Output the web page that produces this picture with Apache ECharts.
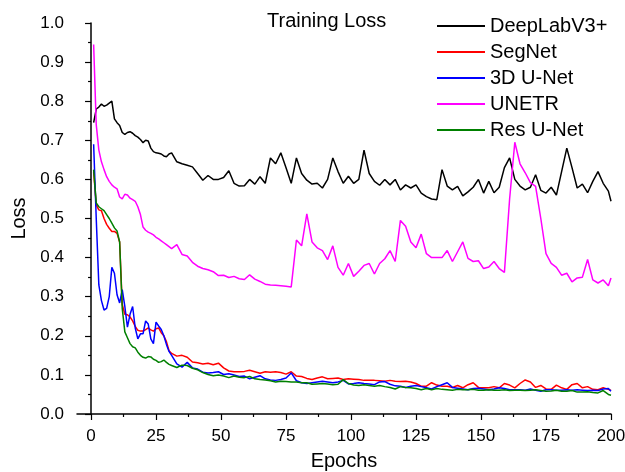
<!DOCTYPE html>
<html lang="en">
  <head>
    <meta charset="UTF-8" />
    <title>Training Loss</title>
    <script src="https://cdnjs.cloudflare.com/ajax/libs/echarts/6.0.0/echarts.min.js"></script>
    <style>
      html, body { margin: 0; padding: 0; background: #fff; }
      #main { width: 625px; height: 472px; }
    </style>
  </head>
  <body>
    <div id="main"></div>
    <script type="text/javascript">
      // epochs: every epoch up to 30, then every other epoch, then the last one
      var epochs = [];
      for (var e = 1; e <= 30; e++) epochs.push(e);
      for (var e2 = 31; e2 <= 199; e2 += 2) epochs.push(e2);
      epochs.push(200);

      var xTicks = [0, 25, 50, 75, 100, 125, 150, 175, 200];
      var xMinorTicks = [12.5, 37.5, 62.5, 87.5, 112.5, 137.5, 162.5, 187.5];

      var seriesNames = ["DeepLabV3+", "SegNet", "3D U-Net", "UNETR", "Res U-Net"];

      // DeepLabV3+ (epochs 1-30, then odd epochs 31-199 and 200)
      var deeplab = [
        0.745, 0.78, 0.785, 0.793, 0.787, 0.79, 0.795, 0.8, 0.755, 0.745,
        0.738, 0.72, 0.715, 0.72, 0.722, 0.718, 0.712, 0.708, 0.702, 0.694,
        0.70, 0.698, 0.68, 0.671, 0.668, 0.667, 0.665, 0.66, 0.658, 0.665,
        0.668, 0.645, 0.64, 0.636, 0.632, 0.615, 0.598, 0.61, 0.6, 0.6,
        0.605, 0.622, 0.59, 0.583, 0.584, 0.6, 0.588, 0.607, 0.59, 0.655,
        0.64, 0.668, 0.63, 0.59, 0.655, 0.615, 0.598, 0.588, 0.59, 0.578,
        0.6, 0.655, 0.62, 0.59, 0.608, 0.59, 0.6, 0.675, 0.615, 0.595,
        0.585, 0.6, 0.586, 0.6, 0.573, 0.586, 0.578, 0.586, 0.565, 0.556,
        0.55, 0.548, 0.625, 0.583, 0.573, 0.582, 0.558, 0.568, 0.58, 0.6,
        0.565, 0.595, 0.566, 0.58, 0.63, 0.655, 0.6, 0.583, 0.573, 0.58,
        0.612, 0.572, 0.565, 0.58, 0.56, 0.62, 0.68, 0.63, 0.578, 0.588,
        0.566, 0.595, 0.62, 0.59, 0.57, 0.544
      ];

      var segnet = [
        0.62, 0.535, 0.522, 0.52, 0.5, 0.485, 0.475, 0.467, 0.467, 0.462,
        0.44, 0.28, 0.255, 0.254, 0.248, 0.238, 0.224, 0.214, 0.212, 0.212,
        0.216, 0.22, 0.215, 0.212, 0.218, 0.22, 0.208, 0.2, 0.185, 0.162,
        0.155, 0.148, 0.15, 0.145, 0.133, 0.131, 0.128, 0.13, 0.126, 0.13,
        0.118, 0.11, 0.108, 0.108, 0.109, 0.112, 0.108, 0.104, 0.108, 0.107,
        0.108, 0.106, 0.102, 0.108, 0.097, 0.096, 0.091, 0.088, 0.092, 0.095,
        0.09, 0.091, 0.092, 0.088, 0.09, 0.089, 0.088, 0.086, 0.086, 0.086,
        0.085, 0.084, 0.086, 0.084, 0.083, 0.084, 0.082, 0.078, 0.071, 0.071,
        0.08, 0.074, 0.071, 0.071, 0.068, 0.073, 0.067, 0.075, 0.08, 0.068,
        0.067, 0.067, 0.07, 0.067, 0.078, 0.074, 0.067, 0.078, 0.087, 0.082,
        0.068, 0.073, 0.064, 0.063, 0.074, 0.067, 0.063, 0.075, 0.078, 0.067,
        0.07, 0.063, 0.062, 0.067, 0.063, 0.06
      ];

      var unet3d = [
        0.69, 0.5, 0.33, 0.29, 0.266, 0.27, 0.3, 0.375, 0.36, 0.305,
        0.284, 0.318, 0.275, 0.222, 0.255, 0.275, 0.22, 0.192, 0.205, 0.205,
        0.238, 0.23, 0.192, 0.18, 0.235, 0.225, 0.216, 0.2, 0.178, 0.16,
        0.15, 0.128, 0.12, 0.132, 0.118, 0.115, 0.107, 0.105, 0.106, 0.108,
        0.101, 0.103, 0.1, 0.096, 0.097, 0.09, 0.094, 0.098, 0.09, 0.087,
        0.086, 0.088, 0.092, 0.105, 0.085, 0.08, 0.078, 0.08, 0.082, 0.084,
        0.082, 0.08, 0.082, 0.086, 0.077, 0.078, 0.08, 0.078, 0.077, 0.075,
        0.082, 0.083, 0.076, 0.072, 0.071, 0.068, 0.071, 0.073, 0.07, 0.067,
        0.064, 0.07, 0.075, 0.08, 0.068, 0.066, 0.064, 0.062, 0.065, 0.066,
        0.064, 0.062, 0.064, 0.067, 0.065, 0.062, 0.062, 0.062, 0.061, 0.064,
        0.061, 0.058, 0.062, 0.062, 0.061, 0.061, 0.062, 0.061, 0.062, 0.061,
        0.06, 0.061, 0.06, 0.064, 0.065, 0.058
      ];

      var unetr = [
        0.945, 0.74, 0.675, 0.645, 0.625, 0.607, 0.595, 0.586, 0.58, 0.576,
        0.555, 0.55, 0.562, 0.56, 0.552, 0.548, 0.544, 0.53, 0.51, 0.478,
        0.47, 0.465, 0.462, 0.458, 0.452, 0.448, 0.443, 0.438, 0.433, 0.428,
        0.423, 0.433, 0.408, 0.404, 0.388, 0.378, 0.372, 0.369, 0.364, 0.354,
        0.355, 0.349, 0.352, 0.346, 0.344, 0.356, 0.345, 0.339, 0.332, 0.33,
        0.329, 0.328, 0.327, 0.325, 0.445, 0.43, 0.512, 0.44, 0.425, 0.418,
        0.395, 0.43, 0.375, 0.355, 0.385, 0.352, 0.365, 0.38, 0.385, 0.358,
        0.385, 0.397, 0.418, 0.39, 0.495, 0.48, 0.44, 0.425, 0.46, 0.41,
        0.4, 0.4, 0.4, 0.418, 0.39, 0.415, 0.44, 0.398, 0.39, 0.392,
        0.372, 0.376, 0.39, 0.372, 0.362, 0.55, 0.695, 0.64, 0.617, 0.592,
        0.582, 0.5, 0.41, 0.385, 0.375, 0.355, 0.36, 0.338, 0.348, 0.35,
        0.395, 0.343, 0.335, 0.343, 0.328, 0.348
      ];

      var resunet = [
        0.625, 0.54, 0.53, 0.525, 0.52, 0.51, 0.5, 0.488, 0.476, 0.468,
        0.44, 0.27, 0.21, 0.195, 0.18, 0.172, 0.169, 0.158, 0.15, 0.145,
        0.143, 0.147, 0.146, 0.14, 0.137, 0.132, 0.134, 0.138, 0.132, 0.127,
        0.124, 0.119, 0.125, 0.124, 0.117, 0.113, 0.106, 0.101, 0.098, 0.1,
        0.097, 0.093, 0.097, 0.094, 0.093, 0.096, 0.09, 0.088, 0.087, 0.085,
        0.082, 0.084, 0.083, 0.082, 0.082, 0.08, 0.08, 0.076, 0.077, 0.078,
        0.077, 0.075, 0.076, 0.088, 0.078, 0.074, 0.073, 0.075, 0.073, 0.071,
        0.073, 0.07, 0.068, 0.064, 0.07, 0.068, 0.067, 0.065, 0.062, 0.065,
        0.062, 0.065, 0.063, 0.062, 0.061, 0.063, 0.062, 0.062, 0.063, 0.061,
        0.061, 0.062, 0.061, 0.061, 0.062, 0.06, 0.061, 0.061, 0.06, 0.061,
        0.062, 0.06, 0.058, 0.059, 0.061, 0.058, 0.058, 0.06, 0.056, 0.056,
        0.057, 0.055, 0.054, 0.06, 0.05, 0.048
      ];

      var colors = ["#000000", "#ff0000", "#0000ff", "#ff00ff", "#008000"];
      var allValues = [deeplab, segnet, unet3d, unetr, resunet];
      var font = "'Liberation Sans', Arial, sans-serif";

      function pairs(values) {
        return epochs.map(function (x, i) { return [x, values[i]]; });
      }

      var myChart = echarts.init(document.getElementById("main"), null, { renderer: "canvas" });

      var option = {
        animation: false,
        backgroundColor: "#ffffff",
        color: colors,
        title: {
          text: "Training Loss",
          left: 267,
          top: 11,
          padding: 0,
          textStyle: { fontFamily: font, fontSize: 20, fontWeight: "normal", color: "#000" }
        },
        legend: {
          data: seriesNames,
          orient: "vertical",
          left: 437,
          top: 16,
          padding: 0,
          itemWidth: 48,
          itemHeight: 2,
          itemGap: 6,
          icon: "rect",
          textStyle: { fontFamily: font, fontSize: 20, color: "#000", lineHeight: 20 }
        },
        grid: {
          left: 77,
          right: 14,
          top: 23,
          bottom: 58,
          containLabel: false,
          outerBoundsMode: "none"
        },
        xAxis: [
          {
            type: "value",
            min: -5.4,
            max: 200,
            name: "Epochs",
            nameLocation: "middle",
            nameGap: 37,
            nameTextStyle: { fontFamily: font, fontSize: 20, color: "#000" },
            axisLine: { show: true, lineStyle: { color: "#000", width: 1.5 } },
            axisTick: { show: true, length: 6, customValues: xTicks, lineStyle: { color: "#000", width: 1.2 } },
            axisLabel: { customValues: xTicks, margin: 14, fontFamily: font, fontSize: 17, color: "#000" },
            splitLine: { show: false }
          },
          {
            type: "value",
            min: -5.4,
            max: 200,
            position: "bottom",
            axisLine: { show: false },
            axisTick: { show: true, length: 3, customValues: xMinorTicks, lineStyle: { color: "#000", width: 1.2 } },
            axisLabel: { show: false },
            splitLine: { show: false }
          }
        ],
        yAxis: {
          type: "value",
          min: 0,
          max: 1,
          interval: 0.1,
          name: "Loss",
          nameLocation: "middle",
          nameGap: 40,
          nameTextStyle: { fontFamily: font, fontSize: 20, color: "#000" },
          axisLine: { show: true, lineStyle: { color: "#000", width: 1.5 } },
          axisTick: { show: true, length: 6, lineStyle: { color: "#000", width: 1.2 } },
          minorTick: { show: true, splitNumber: 2, length: 3, lineStyle: { color: "#000", width: 1.2 } },
          axisLabel: {
            margin: 13,
            fontFamily: font,
            fontSize: 17,
            color: "#000",
            formatter: function (v) { return v.toFixed(1); }
          },
          splitLine: { show: false }
        },
        series: seriesNames.map(function (name, i) {
          return {
            name: name,
            type: "line",
            xAxisIndex: 0,
            data: pairs(allValues[i]),
            showSymbol: false,
            symbol: "none",
            smooth: false,
            lineStyle: { color: colors[i], width: 1.5 },
            itemStyle: { color: colors[i] }
          };
        })
      };

      myChart.setOption(option);
    </script>
  </body>
</html>
